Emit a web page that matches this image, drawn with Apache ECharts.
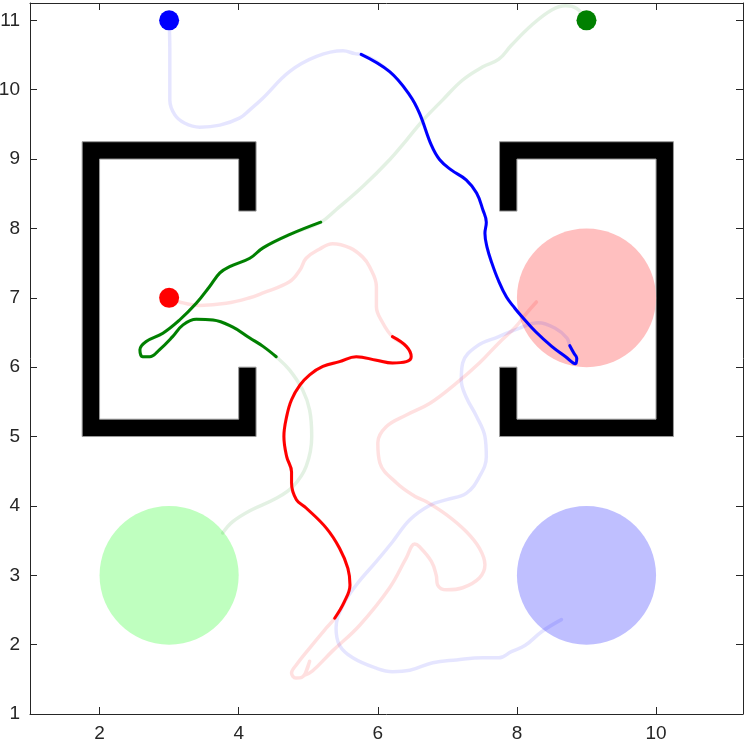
<!DOCTYPE html>
<html>
<head>
<meta charset="utf-8">
<script src="https://cdn.jsdelivr.net/npm/echarts@6/dist/echarts.min.js"></script>
<style>html,body{margin:0;padding:0;background:#fff}#c{width:749px;height:745px}</style>
</head>
<body>
<div id="c"></div>
<script>
// ---- axis ticks ----
var xTicks = [2, 4, 6, 8, 10];
var yTicks = [1, 2, 3, 4, 5, 6, 7, 8, 9, 10, 11];

// ---- room walls (polygon vertices, data units) ----
var roomLeft = [[1.75,5],[4.25,5],[4.25,6],[4.0,6],[4.0,5.25],[2.0,5.25],[2.0,9.0],[4.0,9.0],[4.0,8.25],[4.25,8.25],[4.25,9.25],[1.75,9.25]];
var roomRight = [[10.25,5],[7.75,5],[7.75,6],[8.0,6],[8.0,5.25],[10.0,5.25],[10.0,9.0],[8.0,9.0],[8.0,8.25],[7.75,8.25],[7.75,9.25],[10.25,9.25]];

// ---- goal circles [cx, cy, r] ----
var goalGreen = [3, 3, 1];
var goalBlue = [9, 3, 1];
var goalRed = [9, 7, 1];

// ---- start points ----
var startBlue = [3, 11];
var startGreen = [9, 11];
var startRed = [3, 7];

// ---- blue trajectory ----
var blueFadedA = [[3,11],[3.01,10.57],[3.01,9.85],[3.08,9.64],[3.22,9.52],[3.44,9.46],[3.73,9.49],[4.01,9.59],[4.16,9.71],[4.35,9.88],[4.73,10.26],[5.12,10.48],[5.50,10.56],[5.67,10.52]];
var blueSolid = [[5.76,10.51],[6.17,10.26],[6.46,9.92],[6.60,9.66],[6.77,9.20],[6.89,8.99],[7.06,8.84],[7.27,8.70],[7.42,8.51],[7.51,8.27],[7.56,8.09],[7.54,7.93],[7.57,7.73],[7.64,7.50],[7.73,7.26],[7.85,7.01],[7.97,6.85],[8.07,6.73],[8.27,6.51],[8.50,6.30],[8.70,6.15],[8.84,6.05],[8.86,6.13],[8.82,6.20],[8.76,6.31]];
var blueFadedB = [[8.72,6.42],[8.55,6.56],[8.31,6.64],[8.03,6.56],[7.74,6.44],[7.42,6.30],[7.22,6.06],[7.20,5.81],[7.27,5.57],[7.42,5.29],[7.54,5.00],[7.56,4.71],[7.46,4.42],[7.27,4.18],[6.99,4.09],[6.75,4.01],[6.46,3.80],[6.21,3.48],[5.98,3.20],[5.69,2.86],[5.50,2.57],[5.40,2.24],[5.45,1.99],[5.64,1.81],[5.98,1.66],[6.21,1.61],[6.46,1.63],[6.79,1.74],[7.13,1.78],[7.51,1.81],[7.74,1.81],[7.92,1.90],[8.12,1.99],[8.36,2.19],[8.64,2.36]];

// ---- green trajectory ----
var greenFadedA = [[9,11],[8.86,11.17],[8.70,11.21],[8.50,11.15],[8.21,10.93],[7.92,10.64],[7.74,10.44],[7.51,10.33],[7.22,10.14],[6.93,9.85],[6.65,9.56],[6.41,9.27],[6.17,8.99],[5.78,8.60],[5.40,8.27]];
var greenSolid = [[5.18,8.09],[4.73,7.91],[4.35,7.72],[4.16,7.57],[3.87,7.45],[3.73,7.36],[3.58,7.16],[3.39,6.92],[3.15,6.68],[2.91,6.49],[2.67,6.37],[2.58,6.25],[2.62,6.15],[2.72,6.15],[2.86,6.25],[3.05,6.44],[3.20,6.61],[3.39,6.69],[3.63,6.68],[3.91,6.58],[4.16,6.42],[4.35,6.30],[4.54,6.15]];
var greenFadedB = [[4.73,5.96],[4.92,5.67],[5.02,5.38],[5.05,5.00],[4.97,4.57],[4.78,4.28],[4.54,4.11],[4.16,3.93],[3.91,3.77],[3.77,3.61]];

// ---- red trajectory ----
var redFadedA = [[3,7],[3.15,6.94],[3.44,6.89],[3.82,6.92],[4.16,7.00],[4.35,7.07],[4.73,7.23],[4.88,7.40],[4.97,7.57],[5.16,7.70],[5.35,7.78],[5.60,7.72],[5.78,7.59],[5.88,7.45],[5.98,7.16],[5.98,6.87],[6.07,6.64]];
var redSolid = [[6.21,6.44],[6.41,6.30],[6.48,6.15],[6.41,6.08],[6.21,6.06],[5.98,6.10],[5.69,6.15],[5.45,6.08],[5.21,6.01],[5.02,5.89],[4.88,5.74],[4.76,5.53],[4.69,5.29],[4.65,5.00],[4.69,4.71],[4.76,4.49],[4.76,4.33],[4.83,4.09],[4.97,3.97],[5.26,3.68],[5.45,3.39],[5.57,3.10],[5.60,2.86],[5.52,2.62],[5.38,2.38]];
var redFadedB = [[5.26,2.24],[5.02,1.95],[4.83,1.71],[4.76,1.59],[4.82,1.52],[4.91,1.53],[5.02,1.76],[4.95,1.56],[5.06,1.62],[5.35,1.91],[5.74,2.28],[6.17,2.82],[6.41,3.25],[6.53,3.45],[6.60,3.41],[6.77,3.20],[6.84,3.00],[6.86,2.86],[6.99,2.79],[7.22,2.82],[7.46,2.96],[7.54,3.15],[7.46,3.39],[7.27,3.63],[6.99,3.87],[6.70,4.06],[6.53,4.14],[6.27,4.33],[6.03,4.62],[6.00,4.91],[6.12,5.14],[6.41,5.31],[6.75,5.48],[7.13,5.77],[7.46,6.06],[7.74,6.35],[7.98,6.58],[8.14,6.78],[8.28,6.94]];

var chart = echarts.init(document.getElementById('c'), null, {renderer: 'canvas'});
var AX = '#262626';
var FONT = '"Liberation Sans", Arial, Helvetica, sans-serif';

function xAxisCfg(pos, labels) {
  return {
    type: 'value', position: pos, min: 1, max: 11.25,
    axisLine: {show: true, onZero: false, lineStyle: {color: AX, width: 1}},
    axisTick: {show: true, inside: true, length: 7, customValues: xTicks, lineStyle: {color: AX, width: 1}},
    axisLabel: {show: labels, customValues: xTicks, fontSize: 19, color: AX, fontFamily: FONT, margin: 10},
    splitLine: {show: false}
  };
}
function yAxisCfg(pos, labels) {
  return {
    type: 'value', position: pos, min: 1, max: 11.25,
    axisLine: {show: true, onZero: false, lineStyle: {color: AX, width: 1}},
    axisTick: {show: true, inside: true, length: 7, customValues: yTicks, lineStyle: {color: AX, width: 1}},
    axisLabel: {show: labels, customValues: yTicks, fontSize: 19, color: AX, fontFamily: FONT, margin: 10},
    splitLine: {show: false}
  };
}

var rooms = [roomLeft, roomRight];
var goals = [
  {c: goalGreen, color: '#BFFFBF'},
  {c: goalBlue, color: '#BFBFFF'},
  {c: goalRed, color: '#FFBFBF'}
];

function lineSeries(data, color, width, z) {
  return {
    type: 'line', data: data, showSymbol: false, smooth: 0.4, z: z,
    lineStyle: {color: color, width: width, cap: 'round', join: 'round'},
    silent: true, animation: false
  };
}

var option = {
  animation: false,
  backgroundColor: '#fff',
  grid: {left: 30, right: 6, top: 3, bottom: 31, containLabel: false, outerBoundsMode: 'none'},
  xAxis: [xAxisCfg('bottom', true), xAxisCfg('top', false)],
  yAxis: [yAxisCfg('left', true), yAxisCfg('right', false)],
  series: [
    {
      type: 'custom', z: 1, silent: true,
      data: rooms.map(function (r, i) { return [r[0][0], r[0][1], i]; }),
      renderItem: function (params, api) {
        var room = rooms[api.value(2)];
        var pts = room.map(function (p) { return api.coord(p); });
        return {type: 'polygon', shape: {points: pts}, style: {fill: '#000', stroke: '#9a9a9a', lineWidth: 1}};
      }
    },
    {
      type: 'custom', z: 2, silent: true,
      data: goals.map(function (g, i) { return [g.c[0], g.c[1], g.c[2], i]; }),
      renderItem: function (params, api) {
        var c = api.coord([api.value(0), api.value(1)]);
        var r = api.size([api.value(2), api.value(2)]);
        return {type: 'ellipse', shape: {cx: c[0], cy: c[1], rx: r[0], ry: r[1]}, style: {fill: goals[api.value(3)].color}};
      }
    },
    lineSeries(blueFadedA.concat(blueSolid, blueFadedB), 'rgba(0,0,255,0.1)', 3.5, 3),
    lineSeries(greenFadedA.concat(greenSolid, greenFadedB), 'rgba(0,128,0,0.11)', 3.5, 3),
    lineSeries(redFadedA.concat(redSolid, redFadedB), 'rgba(255,0,0,0.12)', 3.5, 3),
    lineSeries(blueSolid, '#0000FF', 3, 4),
    lineSeries(greenSolid, '#008000', 3, 4),
    lineSeries(redSolid, '#FF0000', 3, 4),
    {
      type: 'scatter', z: 5, silent: true, symbolSize: 20,
      itemStyle: {opacity: 1},
      data: [
        {value: startBlue, itemStyle: {color: '#0000FF', opacity: 1}},
        {value: startGreen, itemStyle: {color: '#008000', opacity: 1}},
        {value: startRed, itemStyle: {color: '#FF0000', opacity: 1}}
      ]
    }
  ]
};
chart.setOption(option);
</script>
</body>
</html>
